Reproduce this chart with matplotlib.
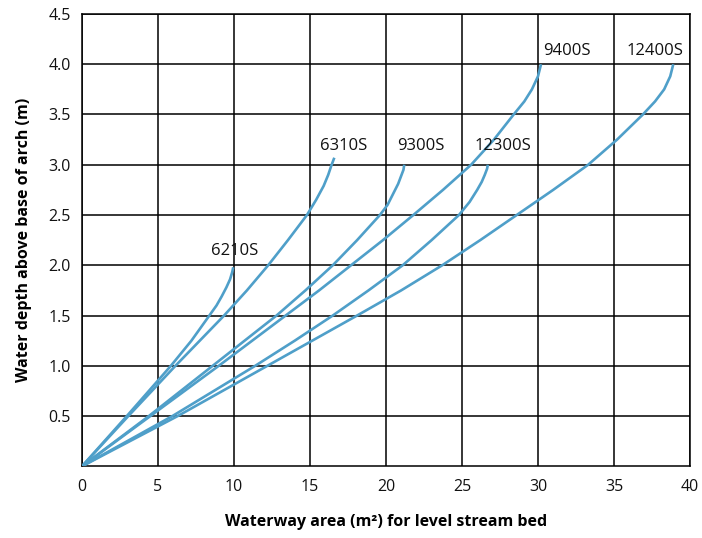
"""
Waterway area versus water depth for arch culvert sizes
"""

import matplotlib.pyplot as plt

#---------------------------------------------------------------------------------------------------
# Curve data (waterway area in m^2, water depth in m)
#---------------------------------------------------------------------------------------------------

area_6210 = [0, 2.95, 5.85, 7.2, 8.38, 8.85, 9.19, 9.5, 9.74, 9.88, 9.95]
depth_6210 = [0, 0.5, 1.0, 1.25, 1.5, 1.6, 1.69, 1.78, 1.86, 1.93, 1.98]

area_6310 = [0, 3.05, 6.15, 7.75, 9.35, 10.85, 12.25, 13.55, 14.8, 15.4, 15.9, 16.2, 16.4, 16.6]
depth_6310 = [0, 0.5, 1.0, 1.25, 1.5, 1.75, 2.0, 2.25, 2.5, 2.65, 2.79, 2.9, 2.99, 3.07]

area_9300 = [0, 4.4, 8.6, 12.8, 14.7, 16.5, 18.1, 19.6, 20.1, 20.5, 20.8, 21.0, 21.15, 21.2]
depth_9300 = [0, 0.5, 1.0, 1.5, 1.75, 2.0, 2.25, 2.5, 2.6, 2.72, 2.81, 2.89, 2.95, 3.0]

area_9400 = [0, 4.5, 9.0, 13.4, 15.6, 17.7, 19.8, 21.8, 23.75, 25.6, 27.1, 28.4, 29.1, 29.6,
             30.0, 30.2]
depth_9400 = [0, 0.5, 1.0, 1.5, 1.75, 2.0, 2.25, 2.5, 2.75, 3.0, 3.25, 3.5, 3.63, 3.75,
              3.88, 4.0]

area_12300 = [0, 5.95, 11.4, 14.0, 16.5, 18.85, 21.1, 23.0, 24.8, 25.5, 26.0, 26.3, 26.5,
              26.65, 26.7]
depth_12300 = [0, 0.5, 1.0, 1.25, 1.5, 1.75, 2.0, 2.25, 2.5, 2.63, 2.75, 2.83, 2.9,
               2.96, 3.0]

area_12400 = [0, 6.3, 12.2, 18.1, 21.0, 23.7, 26.2, 28.6, 31.0, 33.3, 35.2, 36.9, 37.7, 38.3,
              38.7, 38.9]
depth_12400 = [0, 0.5, 1.0, 1.5, 1.75, 2.0, 2.25, 2.5, 2.75, 3.0, 3.25, 3.5, 3.63, 3.75,
               3.88, 4.0]

# Curve labels and where they sit (x, y)
labels = ['6210S', '6310S', '9300S', '9400S', '12300S', '12400S']
label_x = [10.05, 17.2, 22.3, 31.9, 27.7, 37.7]
label_y = [2.14, 3.19, 3.19, 4.13, 3.19, 4.13]

x_ticks = [0, 5, 10, 15, 20, 25, 30, 35, 40]
y_ticks = [0.5, 1.0, 1.5, 2.0, 2.5, 3.0, 3.5, 4.0, 4.5]

#---------------------------------------------------------------------------------------------------
# Make Plot
#---------------------------------------------------------------------------------------------------

plt.rcParams['font.family'] = ['Open Sans', 'DejaVu Sans']

line_color = '#4f9fc9'

fig = plt.figure(figsize=(7.02, 5.38), dpi=100)
ax = fig.add_axes([0.1168, 0.1333, 0.8661, 0.8407])

curves = [(area_6210, depth_6210), (area_6310, depth_6310), (area_9300, depth_9300),
          (area_9400, depth_9400), (area_12300, depth_12300), (area_12400, depth_12400)]
for xs, ys in curves:
    ax.plot(xs, ys, color=line_color, lw=1.9, solid_capstyle='butt',
            solid_joinstyle='round', zorder=3)

for lab, lx, ly in zip(labels, label_x, label_y):
    ax.text(lx, ly, lab, ha='center', va='center', fontsize=12, color='#111111', zorder=4)

ax.set_xlim(0, 40)
ax.set_ylim(0, 4.5)
ax.set_xticks(x_ticks)
ax.set_yticks(y_ticks)
ax.set_xticklabels([str(t) for t in x_ticks])
ax.set_yticklabels(['%.1f' % t for t in y_ticks])
ax.tick_params(axis='both', length=0, labelsize=11.5, colors='#111111')
ax.tick_params(axis='x', pad=9)
ax.tick_params(axis='y', pad=8)

ax.grid(True, color='black', lw=1.1)
ax.set_axisbelow(True)
for s in ax.spines.values():
    s.set_color('black')
    s.set_linewidth(1.1)

ax.set_xlabel('Waterway area (m²) for level stream bed', fontsize=11.5, fontweight='bold',
              labelpad=14)
ax.set_ylabel('Water depth above base of arch (m)', fontsize=11.5, fontweight='bold',
              labelpad=12)

plt.savefig('out.png', dpi=100)
